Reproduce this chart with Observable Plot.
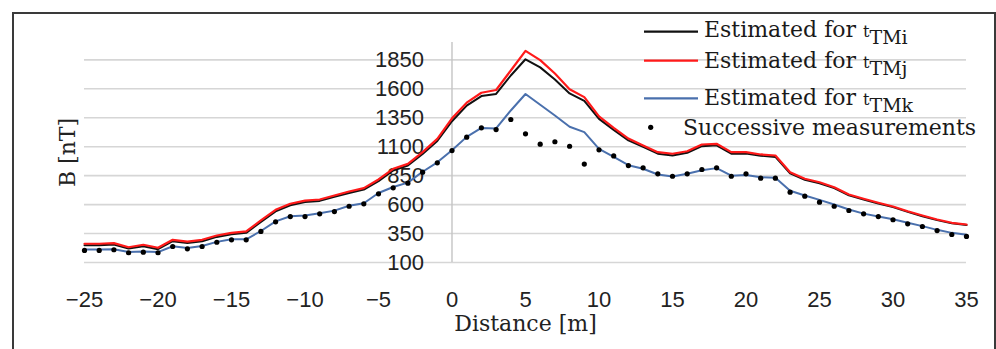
<!DOCTYPE html>
<html><head><meta charset="utf-8">
<script src="https://cdn.jsdelivr.net/npm/d3@7"></script>
<script src="https://cdn.jsdelivr.net/npm/@observablehq/plot@0.6"></script>
<style>
html,body{margin:0;padding:0;background:#fff;}
#wrap{position:relative;width:996px;height:349px;overflow:hidden;background:#fff;}
#frame{position:absolute;left:12px;top:12px;width:984px;height:400px;border:2px solid #3a3a3a;box-sizing:border-box;pointer-events:none;}
#leg{position:absolute;left:0;top:0;pointer-events:none;}
</style></head><body>
<div id="wrap"><div id="chart"></div><svg id="leg" width="996" height="349"></svg><div id="frame"></div></div>
<script>
const distance = [-25,-24,-23,-22,-21,-20,-19,-18,-17,-16,-15,-14,-13,-12,-11,-10,-9,-8,-7,-6,-5,-4,-3,-2,-1,0,1,2,3,4,5,6,7,8,9,10,11,12,13,14,15,16,17,18,19,20,21,22,23,24,25,26,27,28,29,30,31,32,33,34,35];
const estTMi = [250,250,255,220,241,215,284,269,284,321,344,356,450,542,594,622,632,667,700,730,803,895,938,1038,1150,1320,1455,1537,1556,1715,1855,1785,1680,1560,1495,1340,1245,1155,1098,1040,1025,1048,1105,1112,1040,1042,1022,1012,870,815,785,742,680,643,609,578,537,500,466,438,423];
const estTMj = [262,262,267,232,253,227,296,281,296,333,356,368,463,555,607,635,644,679,713,742,817,909,952,1053,1168,1345,1480,1566,1590,1758,1928,1848,1732,1597,1528,1362,1262,1170,1110,1053,1039,1061,1119,1125,1053,1053,1033,1024,880,823,793,750,687,650,616,584,543,506,471,443,428];
const estTMk = [212,212,214,190,196,190,240,225,242,278,300,300,372,455,500,505,525,548,590,612,700,752,790,884,965,1070,1185,1262,1258,1413,1555,1462,1370,1272,1226,1082,1012,940,910,860,843,866,897,915,850,856,837,831,720,679,641,601,558,522,498,474,443,414,382,356,339];
const measured = [204,204,210,184,189,184,238,218,238,275,296,296,368,451,497,497,520,540,586,607,693,745,785,880,961,1067,1182,1263,1248,1335,1211,1122,1143,1104,950,1073,1020,937,918,866,845,866,903,918,845,866,828,828,707,673,621,586,549,520,497,469,434,411,376,342,325];
const yTicks = [100,350,600,850,1100,1350,1600,1850];
const xTicks = [-25,-20,-15,-10,-5,0,5,10,15,20,25,30,35];
const seriesNames = ["Estimated for t|TMi","Estimated for t|TMj","Estimated for t|TMk","Successive measurements"];
const seriesColors = ["#111111","#ff1a1a","#4a70ad","#000000"];

const rows = (vals) => distance.map((d,i)=>({x:d,y:vals[i]}));
const sans = "Liberation Sans, Arial, sans-serif";
const serif = "DejaVu Serif, serif";

const chart = Plot.plot({
  width: 996, height: 349,
  marginLeft: 84, marginRight: 30, marginTop: 42, marginBottom: 87,
  x: {domain: [-25, 35]},
  y: {domain: [100, 2000], axis: null},
  style: {background: "#fff", overflow: "visible"},
  marks: [
    Plot.ruleY(yTicks, {stroke: "#d6d6d6", strokeWidth: 1.6}),
    Plot.ruleX([0], {y1: 100, y2: 2000, stroke: "#c4c4c4", strokeWidth: 1.4}),
    Plot.text(yTicks, {x: 0, y: d=>d, text: d=>String(d), dx: -28, textAnchor: "end", fontSize: 22, fontFamily: sans, fill: "#222"}),
    Plot.axisX({ticks: xTicks, tickSize: 0, tickPadding: 29, fontSize: 22, fontFamily: sans, label: null, color: "#222"}),
    Plot.line(rows(estTMi), {x: "x", y: "y", stroke: seriesColors[0], strokeWidth: 2}),
    Plot.line(rows(estTMj), {x: "x", y: "y", stroke: seriesColors[1], strokeWidth: 2.2}),
    Plot.line(rows(estTMk), {x: "x", y: "y", stroke: seriesColors[2], strokeWidth: 2}),
    Plot.dot(rows(measured), {x: "x", y: "y", r: 2.6, fill: seriesColors[3], stroke: null}),
    Plot.text(["B [nT]"], {frameAnchor: "left", textAnchor: "middle", lineAnchor: "middle", rotate: -90, dx: -17, fontSize: 22, fontFamily: serif, fill: "#222"}),
    Plot.text(["Distance [m]"], {frameAnchor: "bottom", textAnchor: "middle", lineAnchor: "middle", dy: 61, fontSize: 22, fontFamily: serif, fill: "#222"})
  ]
});
document.getElementById("chart").appendChild(chart);

// legend
const leg = d3.select("#leg");
const legRows = [
  {line: 31.7, base: 37},
  {line: 60.7, base: 68},
  {line: 98.3, base: 105},
  {line: 127.3, base: 135}
];
seriesNames.forEach((name, i) => {
  const r = legRows[i];
  if (i < 3) {
    leg.append("line").attr("x1", 644).attr("x2", 698).attr("y1", r.line).attr("y2", r.line)
      .attr("stroke", seriesColors[i]).attr("stroke-width", 2.2);
    const [main, sub] = name.split("|");
    const t = leg.append("text").attr("x", 704).attr("y", r.base)
      .attr("font-family", serif).attr("font-size", 22).attr("fill", "#1a1a1a");
    t.append("tspan").text(main.slice(0, -1));
    t.append("tspan").attr("font-size", 16).text("t");
    t.append("tspan").attr("font-size", 19).attr("dy", 7).text(sub);
  } else {
    leg.append("circle").attr("cx", 650.7).attr("cy", r.line).attr("r", 2.6).attr("fill", seriesColors[i]);
    leg.append("text").attr("x", 683).attr("y", r.base)
      .attr("font-family", serif).attr("font-size", 22).attr("fill", "#1a1a1a").text(name);
  }
});
</script>
</body></html>
